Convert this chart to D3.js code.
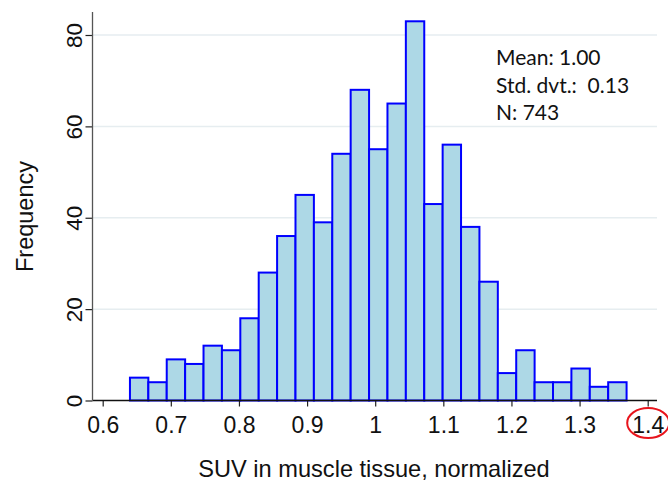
<!DOCTYPE html>
<html>
<head>
<meta charset="utf-8">
<script src="https://cdn.jsdelivr.net/npm/d3@7"></script>
<style>
  body { margin: 0; background: #fff; }
  svg { display: block; font-family: "Liberation Sans", Arial, sans-serif; }
</style>
</head>
<body>
<div id="chart"></div>
<script>
// Histogram bins: lower/upper edges and counts
const binEdges = [0.640, 0.667, 0.694, 0.721, 0.748, 0.775, 0.802, 0.829, 0.856, 0.883,
                  0.910, 0.937, 0.964, 0.991, 1.018, 1.045, 1.072, 1.099, 1.126, 1.153,
                  1.180, 1.207, 1.234, 1.261, 1.288, 1.315, 1.342, 1.369];
const counts = [5, 4, 9, 8, 12, 11, 18, 28, 36, 45, 39, 54, 68, 55, 65, 83, 43, 56, 38, 26,
                6, 11, 4, 4, 7, 3, 4];

const xTicks = [0.6, 0.7, 0.8, 0.9, 1.0, 1.1, 1.2, 1.3, 1.4];
const yTicks = [0, 20, 40, 60, 80];
const statLines = ["Mean: 1.00", "Std. dvt.:  0.13", "N: 743"];
const highlightTick = 1.4;

const width = 668, height = 481;

const x = d3.scaleLinear().domain([0.6, 1.4]).range([102.7, 647.7]);
const y = d3.scaleLinear().domain([0, 80]).range([400.5, 35]);

const bins = counts.map((c, i) => ({x0: binEdges[i], x1: binEdges[i + 1], n: c}));

const svg = d3.create("svg")
    .attr("width", width)
    .attr("height", height)
    .attr("viewBox", [0, 0, width, height]);

const plotLeft = 92.5, plotRight = 657;

// grid lines
svg.append("g")
    .attr("stroke", "#e6edf0")
    .attr("stroke-width", 1.5)
  .selectAll()
  .data(yTicks.filter(d => d > 0))
  .join("line")
    .attr("x1", plotLeft).attr("x2", plotRight)
    .attr("y1", d => y(d)).attr("y2", d => y(d));

// bars
svg.append("g")
    .attr("fill", "#add8e6")
    .attr("stroke", "#0000ff")
    .attr("stroke-width", 2)
  .selectAll()
  .data(bins)
  .join("rect")
    .attr("x", d => x(d.x0))
    .attr("y", d => y(d.n))
    .attr("width", d => x(d.x1) - x(d.x0))
    .attr("height", d => y(0) - y(d.n));

// x axis
const xAxis = svg.append("g")
    .attr("transform", `translate(0,${y(0)})`)
    .call(d3.axisBottom(x).tickValues(xTicks).tickSize(6).tickPadding(10)
      .tickFormat(d => d3.format("~g")(d)));
xAxis.select(".domain").remove();
xAxis.selectAll(".tick line").attr("stroke", "#222").attr("stroke-width", 1.2);
xAxis.selectAll(".tick text")
    .attr("font-size", 23)
    .attr("fill", "#111")
    .attr("font-family", "Liberation Sans, Arial, sans-serif");
xAxis.append("line")
    .attr("x1", plotLeft).attr("x2", plotRight)
    .attr("stroke", "#111").attr("stroke-width", 1.3);

// y axis
const yAxis = svg.append("g")
    .attr("transform", `translate(${plotLeft},0)`)
    .call(d3.axisLeft(y).tickValues(yTicks).tickSize(7).tickFormat(d3.format("d")));
yAxis.select(".domain").remove();
yAxis.selectAll(".tick line").attr("stroke", "#222").attr("stroke-width", 1.2);
yAxis.selectAll(".tick text")
    .attr("font-size", 22.5)
    .attr("fill", "#111")
    .attr("font-family", "Liberation Sans, Arial, sans-serif")
    .attr("x", null).attr("dy", null)
    .attr("text-anchor", "middle")
    .attr("transform", "translate(-11,0) rotate(-90)");
yAxis.append("line")
    .attr("y1", 12).attr("y2", y(0))
    .attr("stroke", "#555").attr("stroke-width", 1.3);

// axis titles
svg.append("text")
    .attr("x", 374).attr("y", 477)
    .attr("text-anchor", "middle")
    .attr("font-size", 23.6)
    .attr("fill", "#111")
    .text("SUV in muscle tissue, normalized");

svg.append("text")
    .attr("transform", "translate(32.5,216.5) rotate(-90)")
    .attr("text-anchor", "middle")
    .attr("font-size", 23.5)
    .attr("fill", "#111")
    .text("Frequency");

// stats box
svg.append("g")
    .attr("font-family", "Lato, 'Open Sans', sans-serif")
    .attr("font-size", 21)
    .attr("fill", "#111")
  .selectAll()
  .data(statLines)
  .join("text")
    .attr("x", 496)
    .attr("y", (d, i) => 65 + i * 27.5)
    .attr("xml:space", "preserve")
    .style("white-space", "pre")
    .text(d => d);

// red ellipse around the 1.4 tick label
svg.append("ellipse")
    .attr("cx", x(highlightTick) + 0.5)
    .attr("cy", 423)
    .attr("rx", 21)
    .attr("ry", 15)
    .attr("fill", "none")
    .attr("stroke", "#e8141c")
    .attr("stroke-width", 2);

document.getElementById("chart").appendChild(svg.node());
</script>
</body>
</html>
